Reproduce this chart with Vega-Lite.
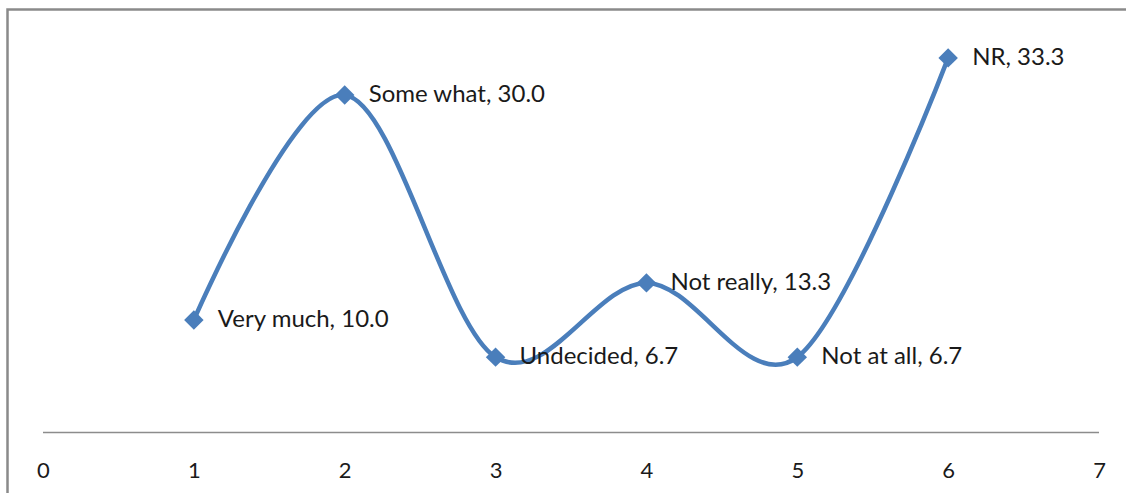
{
  "$schema": "https://vega.github.io/schema/vega-lite/v6.json",
  "autosize": "none",
  "width": 1122.5,
  "height": 490.5,
  "padding": {"left": 7.5, "top": 9.5, "right": 0, "bottom": 0},
  "background": "white",
  "config": {
    "view": {"stroke": "#8a8a8a", "strokeWidth": 2.5},
    "font": "Lato"
  },
  "data": {"values": [
    {"x": 1, "label": "Very much", "v": 10.0},
    {"x": 2, "label": "Some what", "v": 30.0},
    {"x": 3, "label": "Undecided", "v": 6.7},
    {"x": 4, "label": "Not really", "v": 13.3},
    {"x": 5, "label": "Not at all", "v": 6.7},
    {"x": 6, "label": "NR", "v": 33.3}
  ]},
  "transform": [{"calculate": "datum.label + ', ' + format(datum.v, '.1f')", "as": "txt"}],
  "layer": [
    {
      "data": {"values": [{"a": 0, "b": 7, "y": 0}]},
      "transform": [],
      "mark": {"type": "rule", "color": "#8c8c8c", "strokeWidth": 1.5},
      "encoding": {
        "x": {"field": "a", "type": "quantitative", "scale": {"domain": [-0.2353, 7.2054], "nice": false, "zero": false},
          "axis": {"values": [0, 1, 2, 3, 4, 5, 6, 7], "domain": false, "ticks": false, "grid": false, "offset": -67.5, "labelPadding": 28, "labelFontSize": 22, "labelColor": "#1a1a1a", "labelFont": "Lato", "title": null, "format": "d"}},
        "x2": {"field": "b"},
        "y": {"field": "y", "type": "quantitative", "scale": {"domain": [-6, 37.6], "nice": false, "zero": false}, "axis": null}
      }
    },
    {
      "mark": {"type": "line", "interpolate": "cardinal", "color": "#4a7ebb", "strokeWidth": 4.5},
      "encoding": {
        "x": {"field": "x", "type": "quantitative"},
        "y": {"field": "v", "type": "quantitative"}
      }
    },
    {
      "mark": {"type": "point", "shape": "diamond", "filled": true, "color": "#4a7ebb", "size": 380, "opacity": 1},
      "encoding": {
        "x": {"field": "x", "type": "quantitative"},
        "y": {"field": "v", "type": "quantitative"}
      }
    },
    {
      "mark": {"type": "text", "align": "left", "baseline": "middle", "dx": 24, "fontSize": 24, "color": "#1a1a1a", "font": "Lato"},
      "encoding": {
        "x": {"field": "x", "type": "quantitative"},
        "y": {"field": "v", "type": "quantitative"},
        "text": {"field": "txt"}
      }
    }
  ]
}
